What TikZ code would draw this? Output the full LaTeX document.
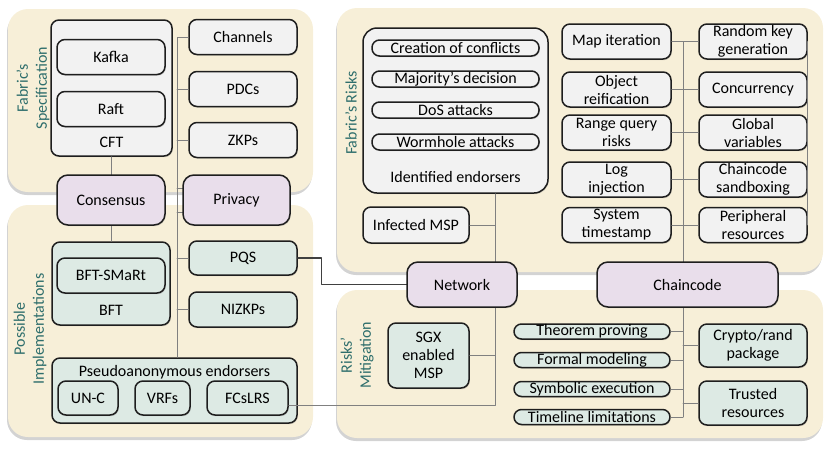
\documentclass[tikz,border=0pt]{standalone}
\usepackage{fontspec}
\setmainfont{Carlito}
\usetikzlibrary{shadows}

\definecolor{panelbg}{RGB}{247,239,216}
\definecolor{graybox}{RGB}{242,242,242}
\definecolor{tealbox}{RGB}{221,234,228}
\definecolor{purplebox}{RGB}{233,222,235}
\definecolor{labelteal}{RGB}{46,110,108}
\definecolor{boxline}{RGB}{30,30,30}

\begin{document}
\begin{tikzpicture}[
  x=1pt, y=-1pt,
  line cap=round,
  line join=round,
  font=\fontsize{16}{18}\selectfont,
  panel/.style={fill=panelbg, rounded corners=20pt,
    drop shadow={shadow xshift=-1pt, shadow yshift=-3pt, opacity=0.35}},
  box/.style={draw=boxline, line width=1.5pt, rounded corners=8pt, fill=graybox,
    align=center, inner sep=0pt,
    drop shadow={shadow xshift=0.8pt, shadow yshift=-1.2pt, opacity=0.3}},
  gbox/.style={box, fill=graybox},
  tbox/.style={box, fill=tealbox},
  pbox/.style={box, fill=purplebox, rounded corners=11pt},
  pill/.style={box, rounded corners=7.5pt, minimum height=16pt},
  link/.style={draw=black!50, line width=0.8pt},
  mainlink/.style={draw=black!75, line width=1.2pt},
  sidelabel/.style={text=labelteal, rotate=90, align=center, inner sep=0pt,
    font=\fontsize{16}{19}\selectfont},
  caption/.style={inner sep=0pt}
]
\useasboundingbox (0,0) rectangle (830,451);

% Background panels.
\path[panel] (8,9) rectangle (313,192);
\path[panel] (8,205) rectangle (313,437);
\path[panel] (337,8) rectangle (823,272);
\path[panel] (337,290) rectangle (823,438);

\node[sidelabel] (specLabel) at (33,88) {Fabric’s\\Specification};
\node[sidelabel] (implLabel) at (30,329) {Possible\\Implementations};
\node[sidelabel] (risksLabel) at (351,113) {Fabric’s Risks};
\node[sidelabel] (mitigLabel) at (357,355) {Risks’\\Mitigation};

\coordinate (privSpine) at (177,0);
\coordinate (netSpine) at (495,0);
\coordinate (ccSpine) at (683,0);

% Fabric's specification.
\node[gbox, minimum width=121pt, minimum height=136pt] (cft) at (111.5,88) {};
\node[caption] (cftLabel) at (111.5,142) {CFT};
\node[gbox, minimum width=108pt, minimum height=35pt] (kafka) at (111,57) {Kafka};
\node[gbox, minimum width=108pt, minimum height=35pt] (raft) at (111,109) {Raft};
\node[gbox, minimum width=108pt, minimum height=35pt] (channels) at (243,37) {Channels};
\node[gbox, minimum width=108pt, minimum height=35pt] (pdcs) at (243,89) {PDCs};
\node[gbox, minimum width=108pt, minimum height=35pt] (zkps) at (243,140) {ZKPs};

% Possible implementations.
\node[tbox, minimum width=118pt, minimum height=83pt] (bft) at (111,283.5) {};
\node[caption] (bftLabel) at (111,310) {BFT};
\node[tbox, minimum width=108pt, minimum height=35pt] (bftsmart) at (111,275.5) {BFT-SMaRt};
\node[tbox, minimum width=108pt, minimum height=34pt] (pqs) at (243,258) {PQS};
\node[tbox, minimum width=108pt, minimum height=35pt] (nizkps) at (243,309.5) {NIZKPs};
\node[tbox, minimum width=245pt, minimum height=65pt] (pseudo) at (174.5,390.5) {};
\node[caption] (pseudoLabel) at (174.5,372) {Pseudoanonymous endorsers};
\node[tbox, minimum width=60pt, minimum height=34pt] (unc) at (88,398) {UN-C};
\node[tbox, minimum width=55pt, minimum height=34pt] (vrfs) at (162.5,398) {VRFs};
\node[tbox, minimum width=81pt, minimum height=34pt] (fcslrs) at (247.5,398) {FCsLRS};

% Fabric's risks.
\node[gbox, minimum width=185pt, minimum height=165pt, rounded corners=14pt] (identified) at (455.5,110.5) {};
\node[caption] (identLabel) at (455.5,177) {Identified endorsers};
\node[pill, minimum width=167pt] (conflicts) at (455.5,48) {Creation of conflicts};
\node[pill, minimum width=167pt] (majority) at (455.5,79) {Majority’s decision};
\node[pill, minimum width=167pt] (dos) at (455.5,110) {DoS attacks};
\node[pill, minimum width=167pt] (wormhole) at (455.5,142) {Wormhole attacks};
\node[gbox, minimum width=106pt, minimum height=36pt] (infected) at (416,225) {Infected MSP};

\node[gbox, minimum width=109pt, minimum height=35pt] (mapit) at (616.5,41.5) {Map iteration};
\node[gbox, minimum width=109pt, minimum height=35pt] (reify) at (616.5,89.5) {Object\\reification};
\node[gbox, minimum width=109pt, minimum height=35pt] (range) at (616.5,132.5) {Range query\\risks};
\node[gbox, minimum width=109pt, minimum height=35pt] (loginj) at (616.5,179.5) {Log\\injection};
\node[gbox, minimum width=109pt, minimum height=35pt] (systime) at (616.5,225) {System\\timestamp};
\node[gbox, minimum width=108pt, minimum height=35pt] (randkey) at (753,41.5) {Random key\\generation};
\node[gbox, minimum width=108pt, minimum height=35pt] (concur) at (753,89.5) {Concurrency};
\node[gbox, minimum width=108pt, minimum height=35pt] (globvar) at (753,132.5) {Global\\variables};
\node[gbox, minimum width=108pt, minimum height=35pt] (sandbox) at (753,179.5) {Chaincode\\sandboxing};
\node[gbox, minimum width=108pt, minimum height=35pt] (periph) at (753,225) {Peripheral\\resources};

% Risks' mitigation.
\node[tbox, minimum width=81pt, minimum height=65pt] (sgx) at (428.5,355.5) {SGX\\enabled\\MSP};
\node[pill, fill=tealbox, minimum width=156pt, minimum height=15pt] (theorem) at (592,331.5) {Theorem proving};
\node[pill, fill=tealbox, minimum width=156pt, minimum height=15pt] (formal) at (592,360) {Formal modeling};
\node[pill, fill=tealbox, minimum width=156pt, minimum height=15pt] (symbolic) at (592,389) {Symbolic execution};
\node[pill, fill=tealbox, minimum width=156pt, minimum height=15pt] (timeline) at (592,417) {Timeline limitations};
\node[tbox, minimum width=108pt, minimum height=43pt] (crypto) at (753,345.5) {Crypto/rand\\package};
\node[tbox, minimum width=108pt, minimum height=44pt] (trusted) at (753,403) {Trusted\\resources};

% Connectors.
\draw[link] (cft.south) -- (cft.south |- 0,175);
\draw[link] (111,225) -- (bft.north);
\draw[link] (channels.west) -| (privSpine |- pseudo.north);
\foreach \n in {pdcs,zkps,pqs,nizkps}{
  \draw[link] (\n.west) -- (privSpine |- \n.west);
}
\draw[link] (privSpine |- 0,188) -- (183,188);
\draw[link] (privSpine |- 0,212) -- (183,212);

\draw[link] (netSpine |- identified.south) -- (netSpine |- 0,262);
\draw[link] (infected.east) -- (netSpine |- infected.east);
\draw[link] (netSpine |- 0,307) -- (netSpine |- 0,405) -- ([yshift=-7pt]fcslrs.east);
\draw[link] (sgx.east) -- (netSpine |- sgx.east);

\draw[link] (ccSpine |- mapit.east) -- (ccSpine |- 0,262);
\foreach \a/\b in {mapit/randkey,reify/concur,range/globvar,loginj/sandbox,systime/periph}{
  \draw[link] (\a.east) -- (\b.west);
}
\draw[link] (randkey.east) -- (periph.east);
\draw[link] (ccSpine |- 0,307) -- (ccSpine |- timeline.east);
\foreach \n in {theorem,formal,symbolic,timeline}{
  \draw[link] (\n.east) -- (ccSpine |- \n.east);
}
\draw[link] (ccSpine |- crypto.west) -- (crypto.west);
\draw[link] (ccSpine |- trusted.west) -- (trusted.west);

\draw[mainlink] (pqs.east) -- ++(24,0) |- (407,284.5);

% Core topics.
\node[pbox, minimum width=108pt, minimum height=50pt] (consensus) at (111,200) {Consensus};
\node[pbox, minimum width=107pt, minimum height=50pt] (privacy) at (236.5,200) {Privacy};
\node[pbox, minimum width=110pt, minimum height=45pt] (network) at (462,284.5) {Network};
\node[pbox, minimum width=181pt, minimum height=45pt] (chaincode) at (687.5,284.5) {Chaincode};

\end{tikzpicture}
\end{document}
